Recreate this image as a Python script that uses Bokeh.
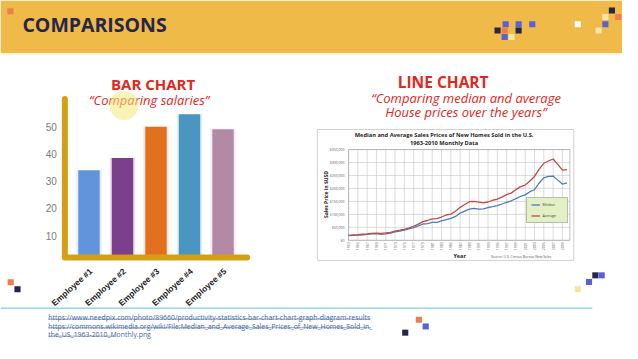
from math import pi
from bokeh.plotting import figure
from bokeh.models import Range1d, Legend, LegendItem
from bokeh.core.properties import value
from bokeh.embed import file_html
from bokeh.resources import INLINE

# ---------------- data ----------------
employees = ["Employee #1", "Employee #2", "Employee #3", "Employee #4", "Employee #5"]
salaries = [34, 38.5, 50, 54.5, 49]
salary_ticks = [10, 20, 30, 40, 50]
bar_colors = ["#6095DB", "#7B3F8B", "#E2701F", "#4B96C1", "#B28AA6"]

years = [1963, 1964, 1965, 1966, 1967, 1968, 1969, 1970, 1971, 1972,
         1973, 1974, 1975, 1976, 1977, 1978, 1979, 1980, 1981, 1982,
         1983, 1984, 1985, 1986, 1987, 1988, 1989, 1990, 1991, 1992,
         1993, 1994, 1995, 1996, 1997, 1998, 1999, 2000, 2001, 2002,
         2003, 2004, 2005, 2006, 2007, 2008, 2009, 2010]
median_price = [18000, 18900, 20000, 21400, 22700, 24700, 25600, 23400, 25200, 27600,
                32500, 35900, 39300, 44200, 48800, 55700, 62900, 64600, 68900, 69300,
                75300, 79900, 84300, 92000, 104500, 112500, 120000, 122900, 120000, 121500,
                126500, 130000, 133900, 140000, 146000, 152500, 161000, 169000, 175200, 187600,
                195000, 221000, 240900, 246500, 247900, 232100, 216700, 221800]
average_price = [19300, 20500, 21500, 23300, 24600, 26600, 27900, 26600, 28300, 30500,
                 35500, 38900, 42600, 48000, 54200, 62500, 71800, 76400, 83000, 83900,
                 89800, 97600, 100800, 111900, 127200, 138300, 148800, 149800, 147200, 144100,
                 147700, 154500, 158700, 166400, 176200, 181900, 195600, 207000, 213200, 228700,
                 246300, 274500, 297000, 305900, 313600, 292600, 270900, 272900]
year_ticks = [1963, 1965, 1967, 1969, 1971, 1973, 1975, 1977, 1979, 1981, 1983, 1985,
              1987, 1989, 1991, 1993, 1995, 1997, 1999, 2001, 2003, 2005, 2007, 2009]
price_ticks = [0, 50000, 100000, 150000, 200000, 250000, 300000, 350000]

links = ["https://www.needpix.com/photo/89660/productivity-statistics-bar-chart-chart-graph-diagram-results",
         "https://commons.wikimedia.org/wiki/File:Median_and_Average_Sales_Prices_of_New_Homes_Sold_in_",
         "the_US_1963-2010_Monthly.png"]

# ---------------- styles ----------------
BANNER = "#EFBA48"
NAVY = "#25264A"
BLUE = "#5A60D6"
ORANGE = "#EE7D4E"
PALE = "#F3E7A6"
WHITE = "#FFFFFF"
RED = "#E2281D"
GOLD = "#D3A014"
LINK = "#3F67A8"
SQ = 6.3
OS = value("Open Sans")
LS = value("Liberation Sans")

# one slide canvas, laid out in slide pixels (638 x 359), y downwards
p = figure(width=622, height=343, x_range=Range1d(0, 638), y_range=Range1d(359, 0),
           x_axis_type=None, y_axis_type=None, toolbar_location=None, title=None,
           output_backend="svg", min_border=0, outline_line_color=None)


def span(r0, r1, v0, v1, c0, c1):
    f = lambda r: v0 + (r - r0) / (r1 - r0) * (v1 - v0)
    return Range1d(f(c0), f(c1))


# bar chart scales: plot box spans slide x 66..253, y 269..103
BX0, BX1 = -0.72, len(employees) - 1 + 0.72
BY0, BY1 = 1.93, 60.18
# line chart scales: plot box spans slide x 357..584, y 251..156
LX0, LX1 = 1963, 2010.6
LY0, LY1 = 0, 350000
p.extra_x_ranges = {"bx": span(66, 253, BX0, BX1, 0, 638), "lx": span(357, 584, LX0, LX1, 0, 638)}
p.extra_y_ranges = {"by": span(269, 103, BY0, BY1, 359, 0), "ly": span(251, 156, LY0, LY1, 359, 0)}
B = dict(x_range_name="bx", y_range_name="by")
L = dict(x_range_name="lx", y_range_name="ly")


def squares(items):
    p.quad(left=[s[0] for s in items], right=[s[0] + SQ for s in items],
           top=[s[1] for s in items], bottom=[s[1] + SQ for s in items],
           fill_color=[s[2] for s in items], line_color=None)


def label(x, y, t, size, color, style="normal", align="center", font=OS, angle=0, **kw):
    p.text(x=[x], y=[y], text=[t], text_font=font, text_font_size=size, text_font_style=style,
           text_color=color, text_align=align, text_baseline="middle", angle=angle, **kw)


# ---------------- banner ----------------
p.quad(left=[0], right=[638], top=[0], bottom=[55], fill_color=BANNER, line_color=None)
p.quad(left=[0], right=[638], top=[55], bottom=[57], fill_color="#FCF3D9", line_color=None)
squares([(7, 8, ORANGE), (515, 21.7, BLUE), (528.3, 21.7, BLUE), (542.3, 21.7, BLUE),
         (506.7, 28.3, NAVY), (514, 28.3, ORANGE), (528.3, 28.3, NAVY),
         (514, 35, BLUE), (521, 35, PALE), (589, 21.7, WHITE), (624, 7.3, NAVY),
         (617.3, 14, PALE), (630.5, 14, ORANGE), (617.3, 21.7, BLUE), (610.3, 28.3, PALE)])
label(22.5, 25.5, "COMPARISONS", "19.5px", NAVY, "bold", "left")

# side decorations
squares([(7.3, 291.7, ORANGE), (14.3, 299, NAVY)])
squares([(589, 299, PALE), (600.5, 291.5, BLUE), (607, 284.5, NAVY), (613.5, 284.5, BLUE)])

# ---------------- bar chart ----------------
label(156.5, 87.5, "BAR CHART", "15px", RED, "bold")
label(152.5, 104.5, "\u201cComparing salaries\u201d", "13px", RED, "italic")
idx = list(range(len(employees)))
p.vbar(x=idx, top=salaries, bottom=BY0, width=0.76, fill_color=bar_colors, fill_alpha=0.16,
       line_color=None, **B)
p.vbar(x=idx, top=salaries, bottom=BY0, width=0.64, fill_color=bar_colors, line_color=None, **B)
p.line(x=[BX0, BX0, BX1], y=[BY1, BY0, BY0], line_color=GOLD, line_width=6,
       line_cap="round", line_join="round", **B)
p.text(x=[BX0] * len(salary_ticks), y=salary_ticks, text=[str(t) for t in salary_ticks],
       x_offset=-8, text_font=LS, text_font_size="10px", text_color="#7A7A7A",
       text_align="right", text_baseline="middle", **B)
p.text(x=idx, y=[BY0] * len(idx), text=employees, angle=0.73, x_offset=2, y_offset=12.5,
       text_font=LS, text_font_style="bold", text_font_size="8.4px", text_color="#222222",
       text_align="right", text_baseline="middle", **B)
# presenter's cursor highlight
p.scatter(x=[126.7], y=[110], size=29, marker="circle", fill_color="#F4E978",
          fill_alpha=0.55, line_color=None)

# ---------------- line chart ----------------
label(454, 85, "LINE CHART", "15.5px", RED, "bold")
label(477.5, 102.5, "\u201cComparing median and average", "13px", RED, "italic")
label(477.5, 116.5, "House prices over the years\u201d", "13px", RED, "italic")
p.quad(left=[325], right=[588], top=[135], bottom=[272], fill_color=WHITE,
       line_color="#D0D0D0", line_width=1)
label(455, 140.5, "Median and Average Sales Prices of New Homes Sold in the U.S.",
      "5.7px", "#1F1F1F", "bold")
label(455, 149.5, "1963-2010 Monthly Data", "5.7px", "#1F1F1F", "bold")
p.segment(x0=year_ticks, y0=[LY0] * len(year_ticks), x1=year_ticks, y1=[LY1] * len(year_ticks),
          line_color="#C4C4C4", line_width=0.6, **L)
p.segment(x0=[LX0] * len(price_ticks), y0=price_ticks, x1=[LX1] * len(price_ticks),
          y1=price_ticks, line_color="#C4C4C4", line_width=0.6, **L)
p.quad(left=[LX0], right=[LX1], bottom=[LY0], top=[LY1], fill_color=None,
       line_color="#9A9A9A", line_width=0.6, **L)
rm = p.line(years, median_price, line_color="#4A7EBB", line_width=1.3, **L)
ra = p.line(years, average_price, line_color="#BE4B48", line_width=1.3, **L)
p.text(x=[LX0] * len(price_ticks), y=price_ticks, text=[f"${v:,}" for v in price_ticks],
       x_offset=-4, text_font=OS, text_font_size="3.5px", text_color="#595959",
       text_align="right", text_baseline="middle", **L)
p.text(x=year_ticks, y=[LY0] * len(year_ticks), text=[str(y) for y in year_ticks],
       angle=pi / 2, y_offset=2, text_font=OS, text_font_size="3.5px", text_color="#595959",
       text_align="right", text_baseline="middle", **L)
label(334, 203, "Sales Price in $USD", "5px", "#262626", "bold", angle=pi / 2)
label(471, 267, "Year", "5.5px", "#262626", "bold")
label(503, 267.5, "Source:  U.S. Census Bureau New Sales", "3.4px", "#595959", align="left")
legend = Legend(items=[LegendItem(label="Median", renderers=[rm]),
                       LegendItem(label="Average", renderers=[ra])],
                location=(539 * 0.975, (359 - 233) * 0.955), margin=0, padding=4, spacing=6,
                glyph_width=9, glyph_height=5, label_height=5, label_standoff=3,
                label_text_font="Open Sans", label_text_font_size="3.6px",
                border_line_color="#8C8C8C", border_line_width=0.6,
                background_fill_color="#E3EFC4", background_fill_alpha=1)
p.add_layout(legend)

# ---------------- bottom: sources ----------------
p.segment(x0=[0], y0=[322], x1=[607], y1=[322], line_color="#93D7E6", line_width=1.5)
squares([(426, 331, ORANGE), (433, 338, BLUE), (412, 344.5, NAVY)])
p.text(x=[49, 49, 49], y=[332, 341, 349.8], text=links, text_font=OS,
       text_font_size="6.9px", text_color=LINK, text_baseline="alphabetic", text_align="left")
p.segment(x0=[49, 49, 49], y0=[333.5, 342.5, 351.3], x1=[378, 380, 118],
          y1=[333.5, 342.5, 351.3], line_color=LINK, line_width=0.6)

open("out.html", "w").write(file_html(p, INLINE))
